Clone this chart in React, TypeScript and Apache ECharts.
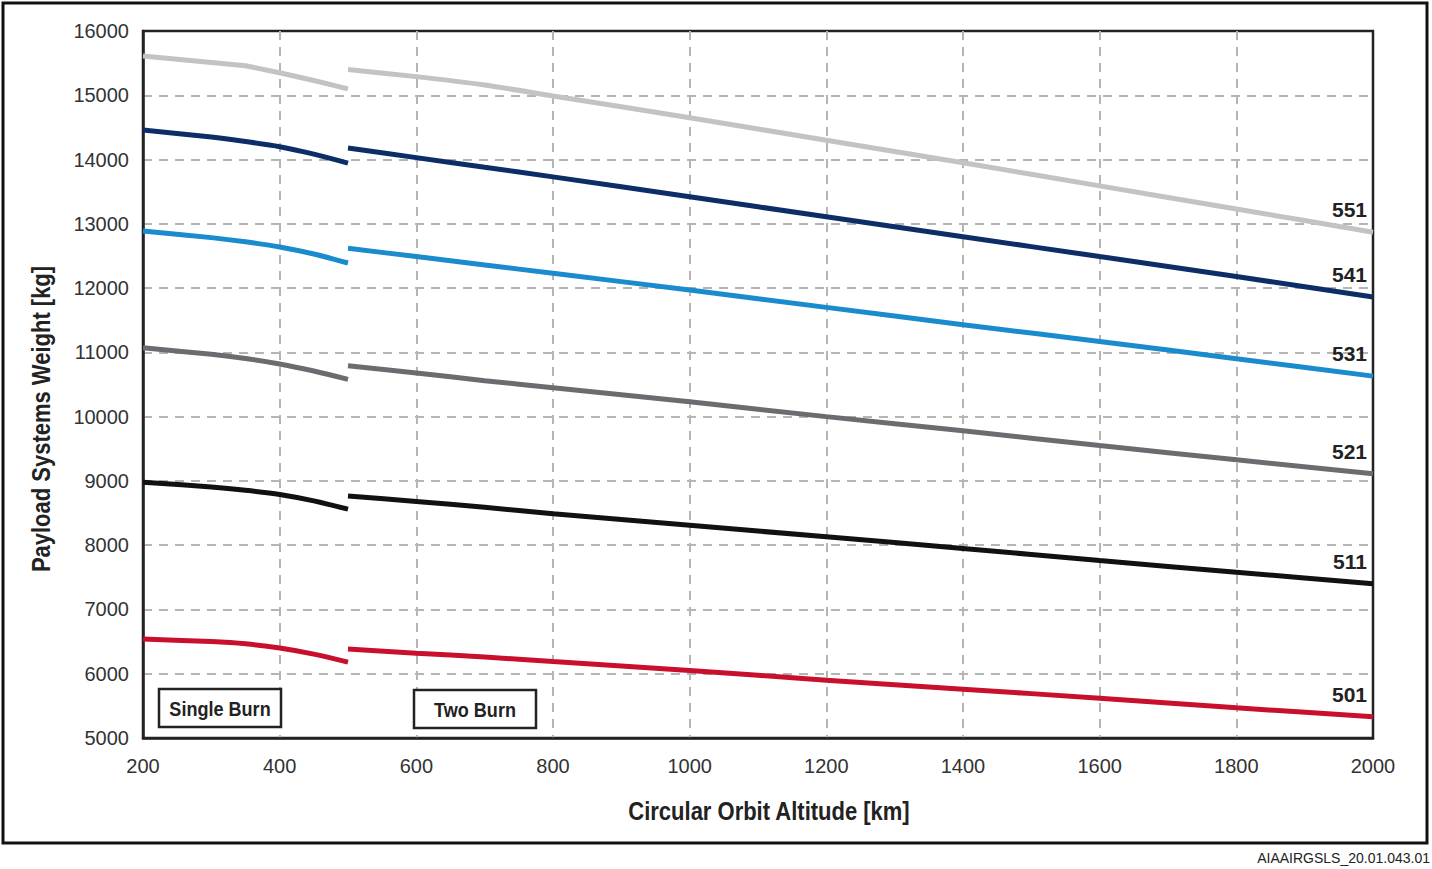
import React, { useEffect, useRef } from "react";
import * as echarts from "echarts";

const FONT = '"Liberation Sans Narrow", "Arial Narrow", "Liberation Sans", Arial, sans-serif';

const xTicks = [200, 400, 600, 800, 1000, 1200, 1400, 1600, 1800, 2000];
const yTicks = [5000, 6000, 7000, 8000, 9000, 10000, 11000, 12000, 13000, 14000, 15000, 16000];

const altSingle = [200, 300, 350, 400, 450, 500];
const altTwo = [500, 600, 700, 800, 1000, 1200, 1400, 1600, 1800, 2000];

const vehicles = ["551", "541", "531", "521", "511", "501"];
const colors = ["#c3c3c3", "#0d2d66", "#1a8bcc", "#6a6c70", "#111111", "#c8102e"];
const smoothSingle = [0, 0.3, 0.3, 0.3, 0.3, 0.3];

const single551 = [15610, 15510, 15460, 15350, 15230, 15100];
const single541 = [14460, 14350, 14280, 14200, 14085, 13945];
const single531 = [12890, 12785, 12720, 12640, 12530, 12390];
const single521 = [11070, 10970, 10905, 10820, 10710, 10580];
const single511 = [8980, 8905, 8855, 8790, 8690, 8560];
const single501 = [6540, 6500, 6465, 6400, 6305, 6180];

const two551 = [15400, 15290, 15160, 14990, 14650, 14300, 13950, 13590, 13230, 12870];
const two541 = [14180, 14030, 13880, 13730, 13420, 13110, 12800, 12490, 12180, 11860];
const two531 = [12620, 12490, 12360, 12230, 11970, 11700, 11430, 11170, 10900, 10630];
const two521 = [10790, 10680, 10560, 10450, 10230, 10000, 9780, 9550, 9330, 9110];
const two511 = [8765, 8680, 8590, 8490, 8310, 8130, 7950, 7760, 7580, 7400];
const two501 = [6385, 6320, 6260, 6190, 6050, 5900, 5760, 5620, 5470, 5330];

const singleBurn = [single551, single541, single531, single521, single511, single501];
const twoBurn = [two551, two541, two531, two521, two511, two501];

export default function App() {
  const ref = useRef<HTMLDivElement>(null);

  useEffect(() => {
    if (!ref.current) return;
    const chart = echarts.init(ref.current, undefined, { renderer: "svg" });

    const series: any[] = [];
    vehicles.forEach((v, i) => {
      series.push({
        name: v + " Single Burn",
        type: "line",
        data: altSingle.map((a, k) => [a, singleBurn[i][k]]),
        showSymbol: false,
        symbol: "none",
        smooth: smoothSingle[i] || false,
        lineStyle: { color: colors[i], width: 5, cap: "butt" },
        itemStyle: { color: colors[i] },
        z: 3,
      });
      series.push({
        name: v,
        type: "line",
        data: altTwo.map((a, k) => [a, twoBurn[i][k]]),
        showSymbol: false,
        symbol: "none",
        smooth: 0.2,
        lineStyle: { color: colors[i], width: 5, cap: "butt" },
        itemStyle: { color: colors[i] },
        endLabel: {
          show: true,
          formatter: () => v,
          align: "right",
          verticalAlign: "bottom",
          offset: [-14, -12],
          fontFamily: FONT,
          fontWeight: "bold",
          fontSize: 21,
          color: "#222",
        },
        z: 3,
      });
    });

    const split = {
      show: true,
      showMinLine: false,
      showMaxLine: false,
      lineStyle: { color: "#b5b5b5", width: 2, type: [9, 7] },
    };

    chart.setOption({
      animation: false,
      backgroundColor: "#ffffff",
      grid: {
        left: 143,
        top: 31,
        right: 59,
        bottom: 131,
        show: true,
        borderColor: "#222",
        borderWidth: 2.5,
        backgroundColor: "transparent",
      },
      xAxis: {
        type: "value",
        min: 200,
        max: 2000,
        interval: 200,
        axisLine: { show: true, lineStyle: { color: "#222", width: 2.5 } },
        axisTick: { show: false },
        axisLabel: {
          fontFamily: FONT,
          fontSize: 20,
          color: "#333",
          margin: 18,
          formatter: (val: number) => (xTicks.includes(val) ? String(val) : ""),
        },
        splitLine: split,
      },
      yAxis: {
        type: "value",
        min: 5000,
        max: 16000,
        interval: 1000,
        axisLine: { show: true, lineStyle: { color: "#222", width: 2.5 } },
        axisTick: { show: false },
        axisLabel: {
          fontFamily: FONT,
          fontSize: 20,
          color: "#333",
          margin: 14,
          formatter: (val: number) => (yTicks.includes(val) ? String(val) : ""),
        },
        splitLine: split,
      },
      graphic: [
        {
          type: "rect",
          shape: { x: 3, y: 3, width: 1424, height: 840 },
          style: { fill: "none", stroke: "#111", lineWidth: 3 },
          silent: true,
          z: 0,
        },
        {
          type: "text",
          x: 42,
          y: 419,
          rotation: Math.PI / 2,
          scaleX: 0.88,
          style: {
            text: "Payload Systems Weight [kg]",
            fontFamily: FONT,
            fontWeight: "bold",
            fontSize: 25,
            fill: "#222",
            align: "center",
            verticalAlign: "middle",
          },
        },
        {
          type: "text",
          x: 769,
          y: 812,
          scaleX: 0.88,
          style: {
            text: "Circular Orbit Altitude [km]",
            fontFamily: FONT,
            fontWeight: "bold",
            fontSize: 25,
            fill: "#222",
            align: "center",
            verticalAlign: "middle",
          },
        },
        {
          type: "rect",
          shape: { x: 159, y: 689, width: 122, height: 38 },
          style: { fill: "#fff", stroke: "#222", lineWidth: 2.5 },
          z: 10,
        },
        {
          type: "text",
          x: 220,
          y: 708,
          scaleX: 0.86,
          style: {
            text: "Single Burn",
            fontFamily: FONT,
            fontWeight: "bold",
            fontSize: 21,
            fill: "#222",
            align: "center",
            verticalAlign: "middle",
          },
          z: 11,
        },
        {
          type: "rect",
          shape: { x: 414, y: 690, width: 122, height: 38 },
          style: { fill: "#fff", stroke: "#222", lineWidth: 2.5 },
          z: 10,
        },
        {
          type: "text",
          x: 475,
          y: 709,
          scaleX: 0.86,
          style: {
            text: "Two Burn",
            fontFamily: FONT,
            fontWeight: "bold",
            fontSize: 21,
            fill: "#222",
            align: "center",
            verticalAlign: "middle",
          },
          z: 11,
        },
        {
          type: "text",
          x: 1430,
          y: 858,
          style: {
            text: "AIAAIRGSLS_20.01.043.01",
            fontFamily: FONT,
            fontSize: 14,
            fill: "#222",
            align: "right",
            verticalAlign: "middle",
          },
        },
      ],
      series,
    });

    return () => chart.dispose();
  }, []);

  return (
    <div
      ref={ref}
      style={{ position: "fixed", left: 0, top: 0, width: 1432, height: 869 }}
    />
  );
}
